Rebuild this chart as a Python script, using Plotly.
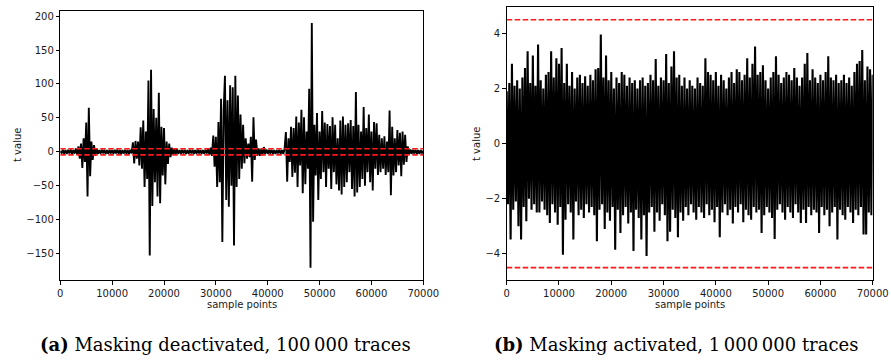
import numpy as np
import plotly.graph_objects as go

# ---------------- data ----------------
STEP_A = 250  # sample spacing of the read-off values (left panel)
t_masking_off = [
    1.5, -2.5, 3.0, -2.8, 2.6, -3.2, 2.9, -2.4, 3.3, -3.0, 2.7, -2.6, 5, -4,
    8, -10, 12, -24, 20, -15, 43, -66, 65, -36, 15, -12, 10, -6, 5,
    -3.0, 2.5, -2.7, 3.1, -2.2, 2.8, -3.3, 2.4, -2.9, 3.0, -2.5, 2.6, -3.1, 2.9,
    -2.4, 3.2, -2.8, 2.5, -3.0, 2.7, -2.6, 3.1, -2.9, 2.4, -3.2, 2.8, -2.5,
    14, -17, 16, -10, 15, -20, 36, -25, 46, -52, 30, -40, 105, -153, 121, -80,
    63, -45, 50, -66, 87, -76, 37, -35, 35, -48, 15, -18, 12, -8, 6,
    -4.5, 5.0, -3.5, 3.8, -3.0, 2.6, -2.9, 3.1, -2.5, 2.8, -3.2, 2.4, -2.7, 3.0,
    -2.6, 2.9, -3.1, 2.5, -2.8, 3.2, -2.4, 2.7, -3.0, 2.6, -2.9, 3.1, -2.5, 4.0, -4.5,
    6, -6, 24, -22, 22, -52, 44, -45, 78, -133, 60, 112, -71, 76, -81, 98, -50,
    95, -138, 112, -52, 83, -40, 55, -25, 40, -17, 20, -10, 12, -8, 22, -44, 51,
    -12, 18, -6,
    5, -6, 4, -5, 7, -3, 3.5, -3, 2.8, -2.6, 3.1, -2.9, 2.5, -3.2, 2.7, -2.4,
    3.0, -2.8, 2.6, -3.1, 4,
    29, -44, 20, -15, 37, -37, 35, -31, 52, -52, 43, -20, 62, -61, 51, -48, 30,
    -25, 93, -171, 190, -103, 40, -35, 57, -71, 30, -40, 60, -30, 43, -52, 41,
    -25, 38, -55, 51, -30, 40, -48, 20, -57, 46, -63, 52, -52, 40, -45, 42, -30,
    47, -55, 38, -66, 88, -60, 40, -52, 30, -40, 66, -50, 35, -30, 55, -45, 30,
    -57, 44, -25, 42, -34, 25, -30, 20, -25, 23, -34, 15, -30, 61, -64, 37, -35,
    20, -30, 32, -20, 28, -36, 30, -19, 25, -15, 8,
    -4, 3.5, -3.0, 2.8, -2.6, 3.1, -2.9, 2.5, -3.2, 2.7, -2.4, 1.5,
]

STEP_B = 500  # spacing of the upper / lower extremes (right panel)
t_on_high = [
    1.9, 2.2, 2.9, 2.1, 2.3, 2.0, 2.4, 2.75, 3.35, 2.2, 3.2, 2.1, 3.6, 2.3, 2.0,
    2.5, 2.6, 3.35, 2.4, 3.1, 2.9, 3.47, 2.2, 2.9, 2.1, 2.6, 2.0, 2.4, 2.5, 2.2,
    2.45, 2.1, 2.5, 2.3, 2.7, 2.75, 3.96, 2.4, 3.2, 2.3, 2.6, 2.0, 2.4, 2.2, 2.6,
    2.5, 2.1, 2.4, 2.2, 2.3, 2.0, 2.3, 2.4, 2.1, 2.2, 2.5, 2.3, 3.07, 2.1, 2.4,
    2.3, 3.25, 2.2, 2.8, 3.35, 2.4, 2.5, 2.1, 2.4, 2.0, 2.3, 2.1, 2.0, 2.4, 2.2,
    2.1, 3.1, 2.6, 2.5, 2.3, 2.6, 2.1, 2.5, 2.3, 2.0, 2.4, 2.6, 2.2, 2.7, 2.6,
    2.3, 2.5, 3.1, 2.4, 2.9, 3.53, 2.5, 2.6, 2.85, 2.3, 2.0, 2.4, 2.6, 3.17, 2.5,
    2.2, 2.4, 2.6, 2.5, 2.3, 2.75, 2.4, 2.1, 2.4, 2.9, 3.29, 2.3, 2.7, 2.4, 2.2,
    2.5, 2.3, 2.6, 3.17, 2.4, 2.3, 2.5, 2.2, 2.3, 2.5, 2.2, 2.4, 2.1, 2.6, 2.9,
    3.0, 3.4, 2.3, 2.8, 2.7, 2.5,
]
t_on_low = [
    -2.2, -3.48, -2.4, -2.1, -3.0, -3.48, -2.3, -2.82, -2.0, -2.4, -2.2, -2.5,
    -2.5, -2.1, -2.4, -2.6, -2.88, -2.2, -2.5, -2.94, -2.3, -4.03, -2.76, -2.2,
    -2.5, -3.48, -2.1, -2.6, -2.4, -2.7, -2.2, -2.5, -2.3, -2.6, -3.54, -2.4,
    -2.2, -3.1, -2.5, -2.8, -2.3, -3.85, -2.4, -3.24, -2.6, -2.3, -2.9, -2.5,
    -3.9, -2.4, -2.7, -3.48, -2.6, -4.08, -2.5, -2.3, -3.2, -2.5, -2.8, -2.2,
    -2.6, -3.54, -3.2, -2.4, -2.7, -3.4, -2.5, -2.8, -2.3, -2.6, -2.2, -2.5,
    -2.76, -2.3, -2.5, -2.7, -2.2, -2.6, -2.4, -2.85, -2.3, -3.4, -2.5, -2.2,
    -2.6, -2.4, -2.9, -2.3, -2.5, -2.2, -2.85, -2.4, -2.6, -2.76, -2.3, -2.5,
    -2.4, -3.24, -2.6, -2.3, -2.5, -2.7, -3.46, -2.4, -2.2, -2.5, -2.76, -2.3,
    -2.5, -2.7, -2.2, -2.5, -2.88, -2.4, -2.88, -2.3, -2.6, -2.4, -2.5, -3.24,
    -2.3, -2.6, -2.4, -3.0, -2.5, -2.3, -3.48, -2.4, -2.6, -2.76, -2.3, -2.5,
    -2.88, -2.4, -2.6, -2.3, -3.3, -3.3, -2.5, -2.6,
]

THRESHOLD = 4.5
X_MAX = 70000
x_ticks = [0, 10000, 20000, 30000, 40000, 50000, 60000, 70000]
y_ticks_a = [-150, -100, -50, 0, 50, 100, 150, 200]
y_ticks_b = [-4, -2, 0, 2, 4]
caption_a = "<b>(a)</b> Masking deactivated, 100\u2009000 traces"
caption_b = "<b>(b)</b> Masking activated, 1\u2009000\u2009000 traces"

# ---------------- build traces ----------------
xa = np.arange(len(t_masking_off)) * STEP_A
xb, yb = [], []
for k, h in enumerate(t_on_high):
    xb.append(k * STEP_B)
    yb.append(h)
    if k < len(t_on_low):
        xb.append(k * STEP_B + STEP_B // 2)
        yb.append(t_on_low[k])

fig = go.Figure()
fig.add_trace(go.Scatter(x=xa, y=t_masking_off, mode="lines",
                         line=dict(color="black", width=1.9, simplify=False),
                         xaxis="x", yaxis="y", showlegend=False))
fig.add_trace(go.Scatter(x=xb, y=yb, mode="lines",
                         line=dict(color="black", width=2.1, simplify=False),
                         xaxis="x2", yaxis="y2", showlegend=False))
for ax, ay in (("x", "y"), ("x2", "y2")):
    for s in (1, -1):
        fig.add_trace(go.Scatter(x=[0, X_MAX], y=[s * THRESHOLD] * 2, mode="lines",
                                 line=dict(color="#ff1a1a", width=1.6, dash="5.5px,2.5px"),
                                 xaxis=ax, yaxis=ay, showlegend=False))

W, H = 891, 360
tickfont = dict(family="DejaVu Sans", size=10, color="#1a1a1a")
common_axis = dict(showline=True, linecolor="black", linewidth=1, mirror=True,
                   ticks="outside", ticklen=3.5, tickwidth=0.8, tickcolor="black",
                   showgrid=False, zeroline=False, tickfont=tickfont, automargin=False)

fig.update_layout(
    width=W, height=H, margin=dict(l=0, r=0, t=0, b=0, pad=0),
    paper_bgcolor="white", plot_bgcolor="white",
    xaxis=dict(domain=[60.3 / W, 423.3 / W], range=[0, X_MAX], tickvals=x_ticks,
               tickformat="d", anchor="y", **common_axis),
    yaxis=dict(domain=[(H - 280) / H, (H - 10.7) / H], range=[-189, 208],
               tickvals=y_ticks_a, anchor="x", **common_axis),
    xaxis2=dict(domain=[506.7 / W, 872.7 / W], range=[0, X_MAX], tickvals=x_ticks,
                tickformat="d", anchor="y2", **common_axis),
    yaxis2=dict(domain=[(H - 280) / H, (H - 7.3) / H], range=[-4.95, 4.95],
                tickvals=y_ticks_b, anchor="x2", **common_axis),
)

label_font = dict(family="DejaVu Sans", size=10, color="#1a1a1a")
cap_font = dict(family="DejaVu Serif", size=18, color="black")
ann = [
    dict(text="t value", x=17 / W, y=(H - 145) / H, textangle=-90, font=label_font),
    dict(text="t value", x=476 / W, y=(H - 144) / H, textangle=-90, font=label_font),
    dict(text="sample points", x=241.8 / W, y=(H - 304) / H, font=label_font),
    dict(text="sample points", x=689.7 / W, y=(H - 304) / H, font=label_font),
    dict(text=caption_a, x=225 / W, y=(H - 344) / H, font=cap_font),
    dict(text=caption_b, x=676 / W, y=(H - 344) / H, font=cap_font),
]
for a in ann:
    a.update(xref="paper", yref="paper", showarrow=False, xanchor="center", yanchor="middle")
fig.update_layout(annotations=ann)

fig.write_html("out.html")
